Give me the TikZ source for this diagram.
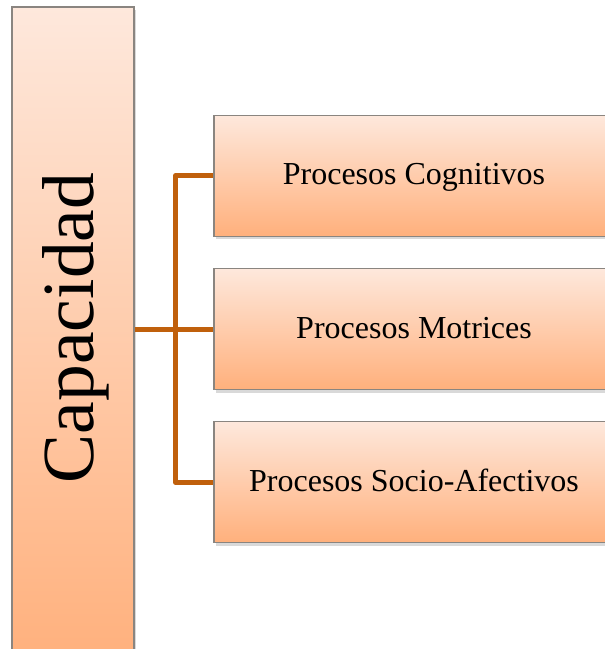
\documentclass[tikz,border=0pt]{standalone}
\usepackage{fontspec}
\setmainfont{Liberation Serif}
\usetikzlibrary{positioning,shadows,calc}
\definecolor{pclight}{HTML}{FEE8DC}
\definecolor{pcdark}{HTML}{FFB07C}
\definecolor{pcedge}{HTML}{8A8580}
\definecolor{pcline}{HTML}{C0600C}
\tikzset{
  pbox/.style  ={rectangle, draw=pcedge, line width=1.2pt,
                 top color=pclight, bottom color=pcdark,
                 drop shadow={shadow xshift=2pt, shadow yshift=-3pt, opacity=0.25, fill=black!60},
                 align=center, inner sep=3pt},
  capbox/.style={pbox, minimum width=122pt, minimum height=660pt},
  procbox/.style={pbox, minimum width=400pt, minimum height=121pt,
                 text height=22pt, text depth=4pt,
                 font=\fontsize{32}{36}\selectfont},
  conn/.style  ={line width=5pt, draw=pcline, line join=round}
}

\begin{document}
\begin{tikzpicture}[x=1pt,y=-1pt]
  \useasboundingbox (0,0) rectangle (605,649);
  \clip (0,0) rectangle (605,649);
  \node[capbox] (cap) at (73,337) {};
  \node[rotate=90, font=\fontsize{73.5}{78}\selectfont] (captxt) at (76,328) {Capacidad};

  \node[procbox] (p2) at (414,329) {Procesos Motrices};
  \node[procbox,above=31pt of p2] (p1) {Procesos Cognitivos};
  \node[procbox,below=31pt of p2] (p3) {Procesos Socio-Afectivos};

  \draw[conn] (cap.east |- p2.west) -- (p2.west);
  \draw[conn] (p1.west) -- ++(-38,0) |- (p3.west);
\end{tikzpicture}
\end{document}
